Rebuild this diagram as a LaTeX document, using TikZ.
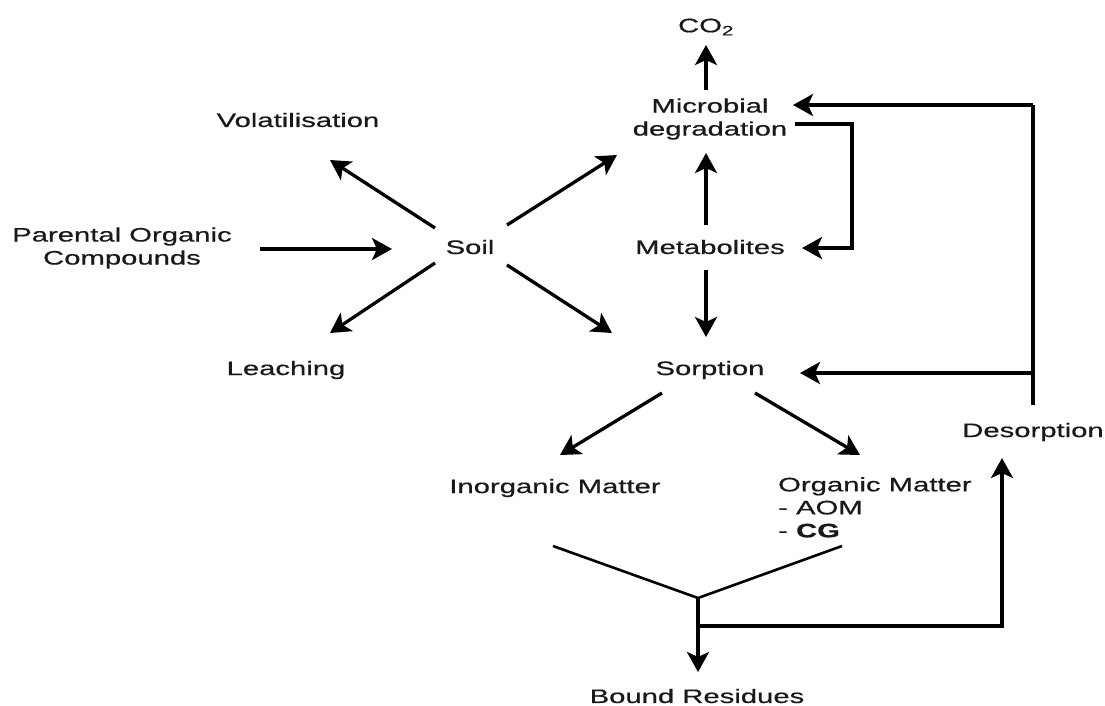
\documentclass[tikz,border=0pt]{standalone}
\usepackage{fontspec}
\setmainfont[FakeStretch=1.5,FakeBold=0.6]{Liberation Sans}
\usetikzlibrary{arrows.meta}
\begin{document}
\begin{tikzpicture}[x=1pt,y=-1pt,
  lbl/.style={font=\fontsize{19.5}{23}\selectfont, inner sep=0pt, align=center, text=black!90},
  arr/.style={line width=3.3pt, -{Stealth[length=20pt,width=22pt,inset=5pt]}},
  ln/.style={line width=3.3pt},
  vln/.style={line width=2.6pt}]
\useasboundingbox (0,0) rectangle (1105,705);
% nodes
\node[lbl] (co2) at (706,27) {CO\textsubscript{2}};
\node[lbl] (micro) at (710,119) {Microbial\\degradation};
\node[lbl] (meta) at (710,247) {Metabolites};
\node[lbl] (sorp) at (710,370) {Sorption};
\node[lbl] (soil) at (470,247) {Soil};
\node[lbl] (vol) at (298,120) {Volatilisation};
\node[lbl] (leach) at (286,370) {Leaching};
\node[lbl] (par) at (122,248) {Parental Organic\\Compounds};
\node[lbl] (inorg) at (555,488) {Inorganic Matter};
\node[lbl, align=left, anchor=north west] (org) at (778,477) {Organic Matter\\- AOM\\- \textbf{CG}};
\node[lbl] (des) at (1033,432) {Desorption};
\node[lbl] (bound) at (697,696) {Bound Residues};
% coordinates
\coordinate (mcS) at (706,90);   \coordinate (coS) at (706,45);
\coordinate (dTop) at (1033,105); \coordinate (mcE) at (793,105);
\coordinate (mcE2) at (795,124); \coordinate (br1) at (852,124);
\coordinate (br2) at (852,248);  \coordinate (mtE) at (802,248);
\coordinate (mtN) at (706,225);  \coordinate (mcSb) at (706,153);
\coordinate (mtS) at (706,270);  \coordinate (spN) at (706,337);
\coordinate (dMid) at (1033,373); \coordinate (spE) at (800,373);
\coordinate (dBot) at (1033,405);
\coordinate (soNE) at (507,225); \coordinate (mcSW) at (617,155);
\coordinate (soSE) at (507,265); \coordinate (spNW) at (612,333);
\coordinate (soNW) at (435,228); \coordinate (voSE) at (330,160);
\coordinate (soSW) at (435,263); \coordinate (leNE) at (330,333);
\coordinate (paE) at (260,249);  \coordinate (soW) at (392,249);
\coordinate (spSW) at (662,393); \coordinate (inN) at (560,455);
\coordinate (spSE) at (755,393); \coordinate (orN) at (860,455);
\coordinate (vL) at (553,546); \coordinate (vM) at (698,598); \coordinate (vR) at (842,546);
\coordinate (brN) at (698,672); \coordinate (hJ) at (698,626);
\coordinate (hR) at (1002,626); \coordinate (deS) at (1002,458);
% connectors
\draw[arr] (mcS) -- (coS);
\draw[ln] (dBot) -- (dTop);
\draw[arr] (dTop) -- (mcE);
\draw[arr] (mcE2) -- (br1) -- (br2) -- (mtE);
\draw[arr] (mtN) -- (mcSb);
\draw[arr] (mtS) -- (spN);
\draw[arr] (dMid) -- (spE);
\draw[arr] (soNE) -- (mcSW);
\draw[arr] (soSE) -- (spNW);
\draw[arr] (soNW) -- (voSE);
\draw[arr] (soSW) -- (leNE);
\draw[arr] (paE) -- (soW);
\draw[arr] (spSW) -- (inN);
\draw[arr] (spSE) -- (orN);
\draw[vln] (vL) -- (vM) -- (vR);
\draw[arr] (vM) -- (brN);
\draw[arr] (hJ) -- (hR) -- (deS);
\end{tikzpicture}
\end{document}
